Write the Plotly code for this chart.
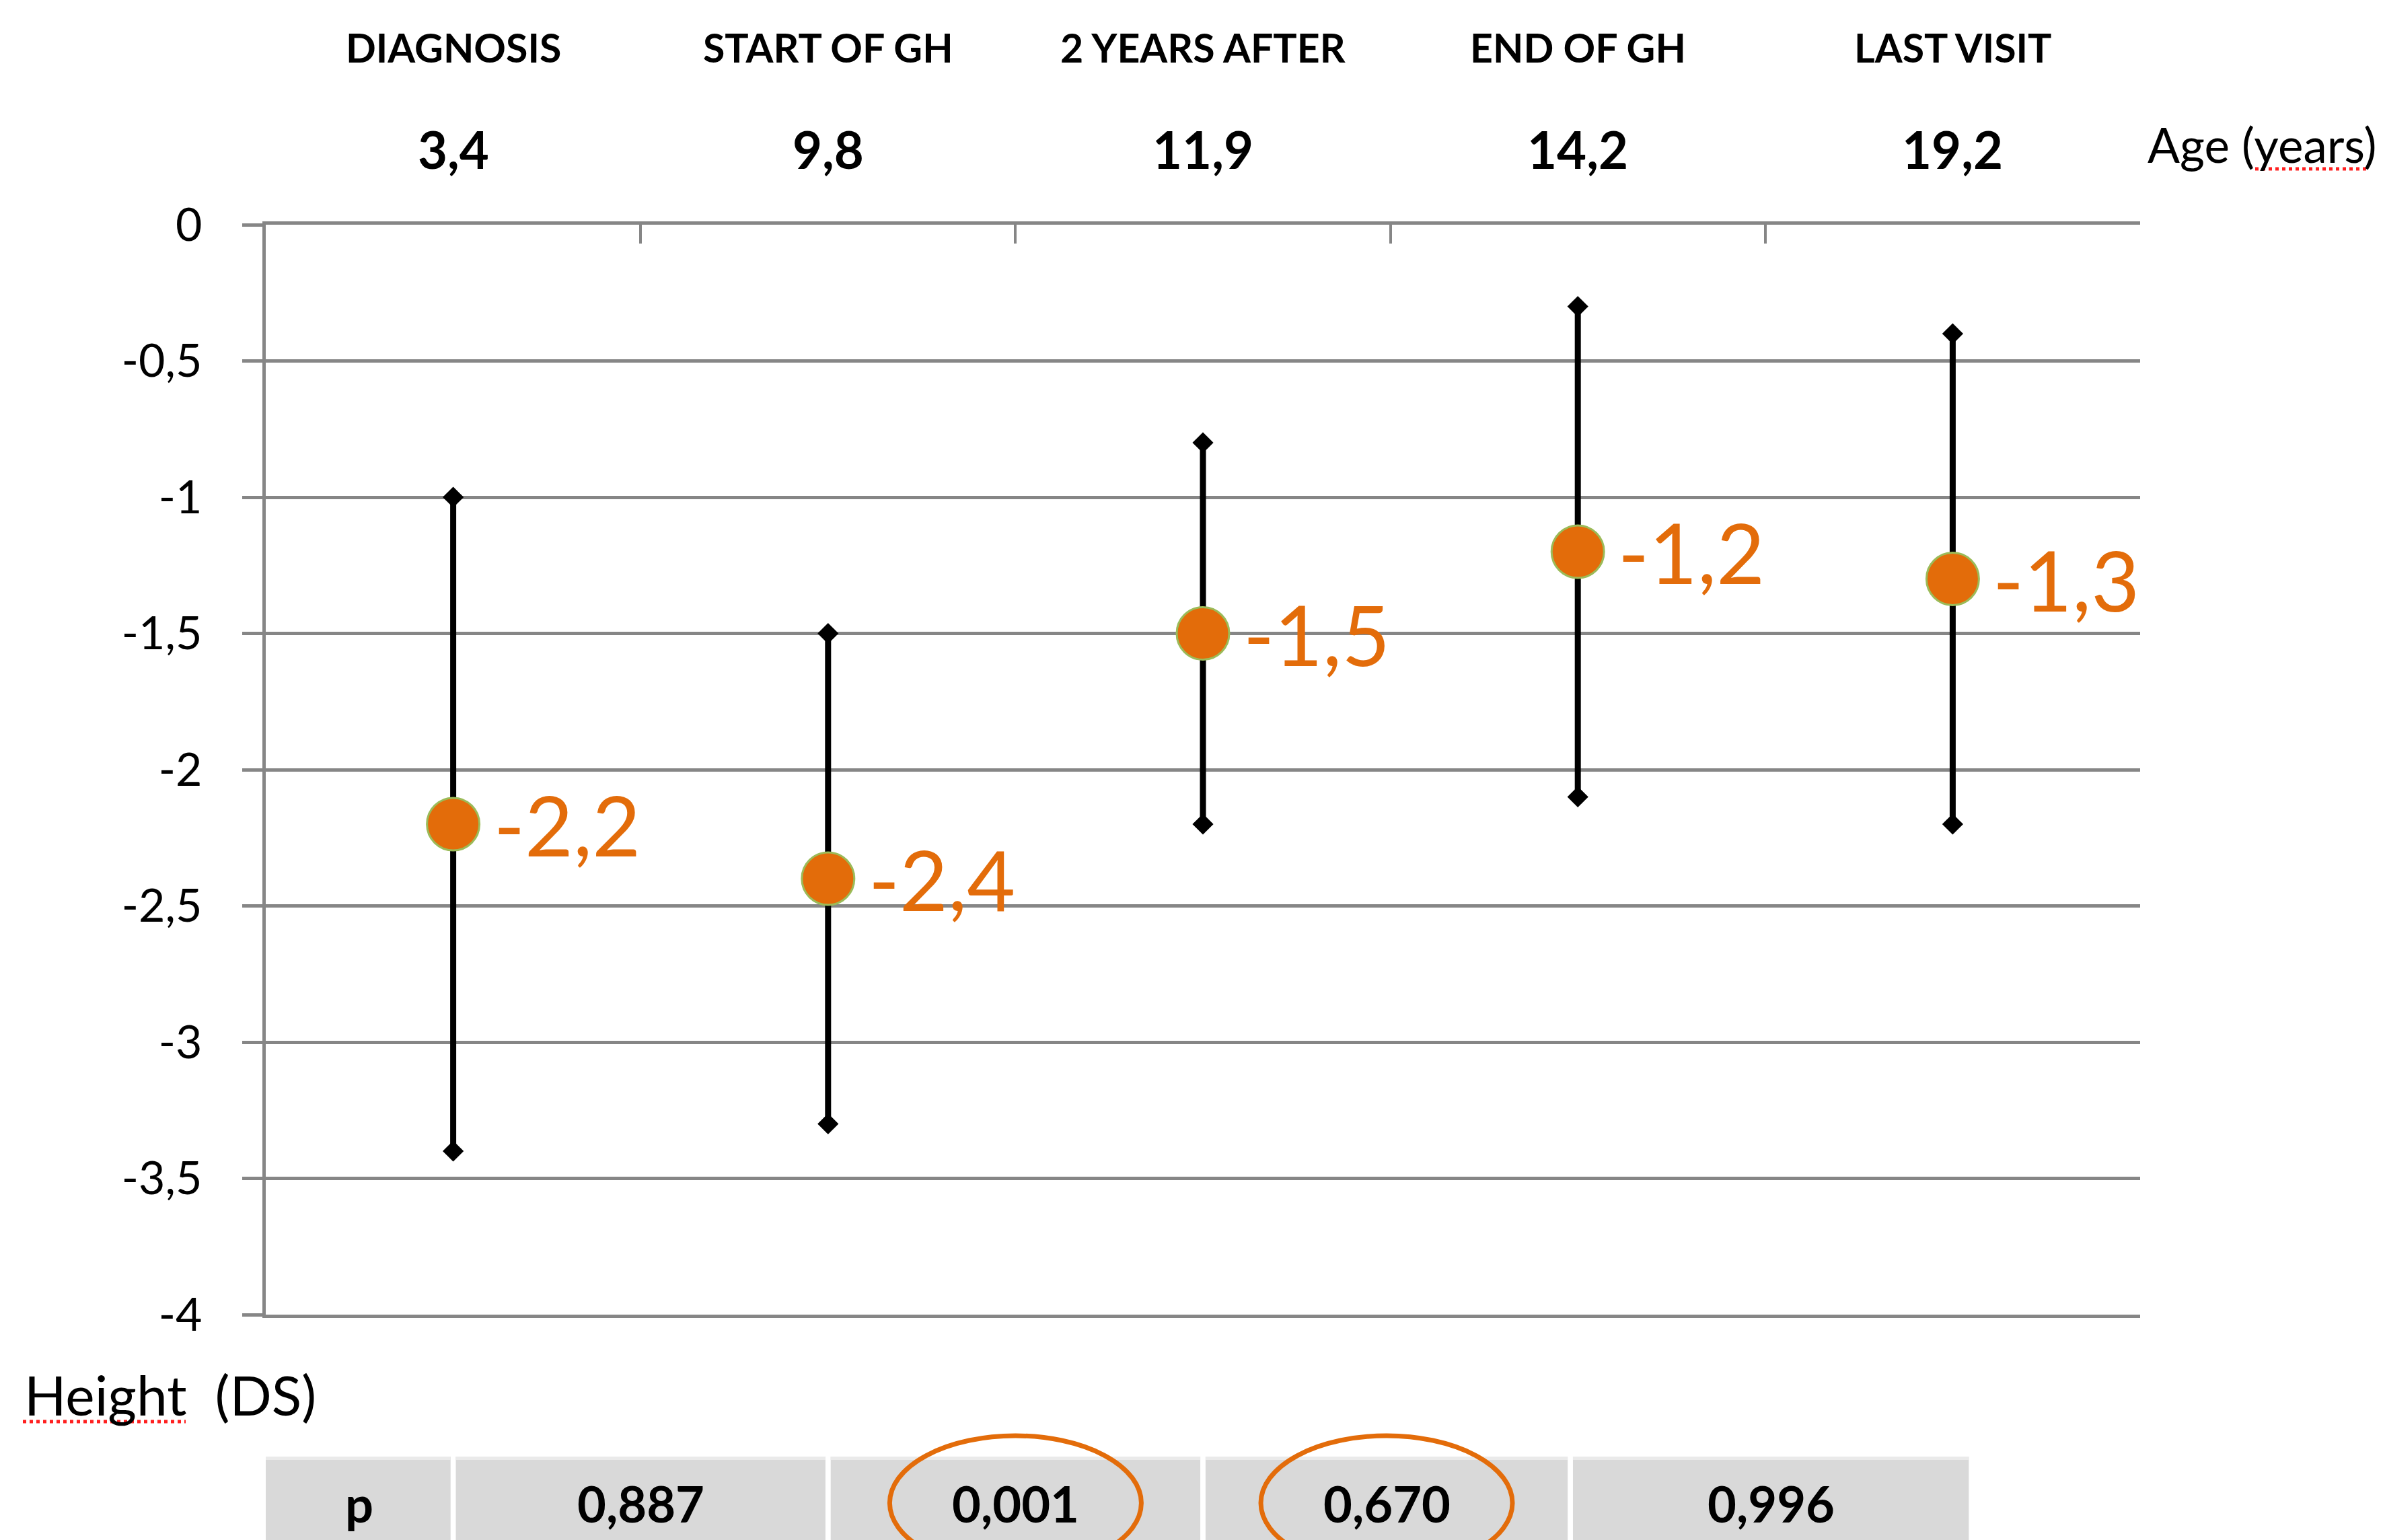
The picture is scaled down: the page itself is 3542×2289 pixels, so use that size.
import plotly.graph_objects as go

# ---- data -------------------------------------------------------------
stages = ["DIAGNOSIS", "START OF GH", "2 YEARS AFTER", "END OF GH", "LAST VISIT"]
ages = ["3,4", "9,8", "11,9", "14,2", "19,2"]
height_sds = [-2.2, -2.4, -1.5, -1.2, -1.3]
sd_spread = [1.2, 0.9, 0.7, 0.9, 0.9]

y_ticks = [0, -0.5, -1, -1.5, -2, -2.5, -3, -3.5, -4]
y_tick_labels = ["0", "-0,5", "-1", "-1,5", "-2", "-2,5", "-3", "-3,5", "-4"]

p_label = "p"
p_values = ["0,887", "0,001", "0,670", "0,996"]
p_highlight = [False, True, True, False]

# ---- styling ----------------------------------------------------------
W, H = 3542, 2289
ML, MR, MT, MB = 395, 361, 334, 335
FONT = "Lato"
ORANGE = "#E36C0A"
GREEN_EDGE = "#9BBB59"
GRID = "#868686"
CELL = "#D9D9D9"
CELL_TOP = "#EAEAEA"

plot_w = W - ML - MR
plot_h = H - MT - MB


def px_to_paper_y(py):
    """Convert a page pixel row to a paper y coordinate."""
    return (H - MB - py) / plot_h


def px_to_paper_x(px):
    return (px - ML) / plot_w


def fmt(v):
    return f"{v:.1f}".replace(".", ",")


fig = go.Figure()

# whisker end caps
upper = [m + s for m, s in zip(height_sds, sd_spread)]
lower = [m - s for m, s in zip(height_sds, sd_spread)]
fig.add_trace(go.Scatter(
    x=stages + stages, y=upper + lower, mode="markers",
    marker=dict(symbol="diamond", size=24, color="black"),
    hoverinfo="skip", showlegend=False,
))

# mean height SDS with +/- SD whiskers
fig.add_trace(go.Scatter(
    x=stages, y=height_sds, mode="markers",
    marker=dict(size=78, color=ORANGE, line=dict(color=GREEN_EDGE, width=3)),
    error_y=dict(type="data", array=sd_spread, symmetric=True,
                 color="black", thickness=9, width=0),
    showlegend=False,
))

annotations = []

# value labels beside each point
for s, v in zip(stages, height_sds):
    annotations.append(dict(
        x=s, y=v, xref="x", yref="y", text=fmt(v), showarrow=False,
        xanchor="left", yanchor="middle", xshift=58, yshift=0,
        font=dict(family=FONT, size=124, color=ORANGE),
    ))

# stage names and ages above the plot
for s, a in zip(stages, ages):
    annotations.append(dict(
        x=s, y=px_to_paper_y(70), xref="x", yref="paper", text=s,
        showarrow=False, xanchor="center", yanchor="middle",
        font=dict(family=FONT, size=59, color="black", weight="bold"),
    ))
    annotations.append(dict(
        x=s, y=px_to_paper_y(221), xref="x", yref="paper", text=a,
        showarrow=False, xanchor="center", yanchor="middle",
        font=dict(family=FONT, size=76, color="black", weight="bold"),
    ))

annotations.append(dict(
    x=1, y=px_to_paper_y(215), xref="paper", yref="paper", text="Age (years)",
    showarrow=False, xanchor="left", yanchor="middle", xshift=9,
    font=dict(family=FONT, size=71, color="black"),
))
annotations.append(dict(
    x=px_to_paper_x(34), y=px_to_paper_y(2072), xref="paper", yref="paper",
    text="Height\u00a0\u00a0(DS)", showarrow=False, xanchor="left", yanchor="middle",
    font=dict(family=FONT, size=82, color="black"),
))

# ---- p-value strip below the chart -----------------------------------
cell_edges = [-0.5, 0.0, 1.0, 2.0, 2.98, 4.05]
gap = 0.007
table_top = px_to_paper_y(2165)
table_bottom = px_to_paper_y(2400)
text_y = px_to_paper_y(2234)

shapes = []
cell_texts = [p_label] + p_values
for i, txt in enumerate(cell_texts):
    x0 = cell_edges[i] + (gap if i > 0 else 0.0)
    x1 = cell_edges[i + 1] - gap
    shapes.append(dict(type="rect", xref="x", yref="paper", x0=x0, x1=x1,
                       y0=table_bottom, y1=table_top, fillcolor=CELL,
                       line=dict(width=0), layer="below"))
    shapes.append(dict(type="rect", xref="x", yref="paper", x0=x0, x1=x1,
                       y0=table_top - 5 / plot_h, y1=table_top,
                       fillcolor=CELL_TOP, line=dict(width=0), layer="below"))
    annotations.append(dict(
        x=(cell_edges[i] + cell_edges[i + 1]) / 2, y=text_y, xref="x", yref="paper",
        text=txt, showarrow=False, xanchor="center", yanchor="middle",
        font=dict(family=FONT, size=74, color="black", weight="bold"),
    ))

# circled significant results
half_w = 187 / plot_w * 5  # in category units
for i, hl in enumerate(p_highlight):
    if hl:
        cx = (cell_edges[i + 1] + cell_edges[i + 2]) / 2
        shapes.append(dict(type="circle", xref="x", yref="paper",
                           x0=cx - half_w, x1=cx + half_w,
                           y0=px_to_paper_y(2334), y1=px_to_paper_y(2134),
                           line=dict(color=ORANGE, width=7), fillcolor="rgba(0,0,0,0)"))

# spell-check underlines
shapes.append(dict(type="line", xref="paper", yref="paper",
                   x0=px_to_paper_x(34), x1=px_to_paper_x(276),
                   y0=px_to_paper_y(2113), y1=px_to_paper_y(2113),
                   line=dict(color="#FF2020", width=5, dash="dot")))
shapes.append(dict(type="line", xref="paper", yref="paper",
                   x0=px_to_paper_x(3352), x1=px_to_paper_x(3522),
                   y0=px_to_paper_y(251), y1=px_to_paper_y(251),
                   line=dict(color="#FF2020", width=5, dash="dot")))

fig.update_layout(
    width=W, height=H,
    margin=dict(l=ML, r=MR, t=MT, b=MB, pad=0),
    paper_bgcolor="white", plot_bgcolor="white",
    font=dict(family=FONT, color="black"),
    annotations=annotations,
    shapes=shapes,
    xaxis=dict(
        type="category", categoryorder="array", categoryarray=stages,
        range=[-0.5, 4.5], side="top", showline=True, linecolor=GRID, linewidth=5,
        mirror=True, ticks="inside", ticklen=28, tickwidth=4, tickcolor=GRID,
        tickson="boundaries", showticklabels=False, showgrid=False, zeroline=False,
    ),
    yaxis=dict(
        range=[-4, 0], tickvals=y_ticks, ticktext=y_tick_labels,
        ticks="outside", ticklen=30, tickwidth=5, tickcolor=GRID,
        showline=True, linecolor=GRID, linewidth=5,
        showgrid=True, gridcolor=GRID, gridwidth=5, zeroline=False,
        tickfont=dict(family=FONT, size=68, color="black"),
        ticklabelstandoff=46,
    ),
)

fig.write_html("out.html")
